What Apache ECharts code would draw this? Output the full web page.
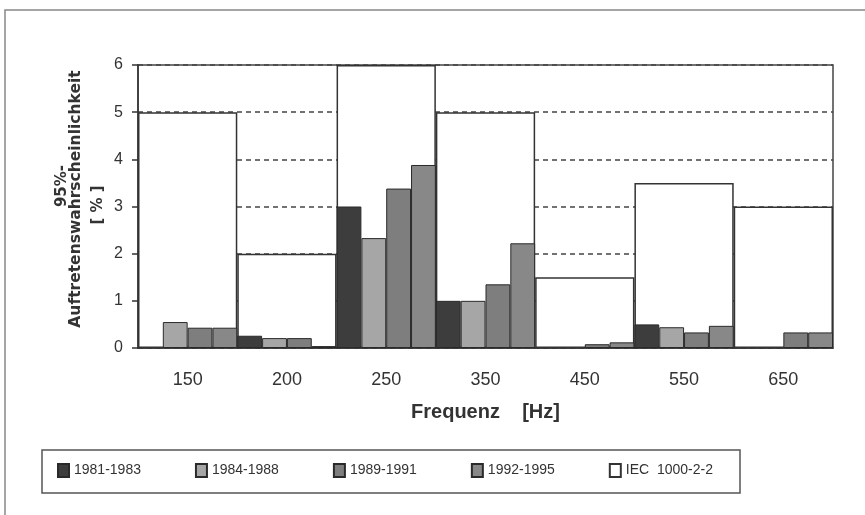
<!DOCTYPE html>
<html>
<head>
<meta charset="utf-8">
<script src="https://cdn.jsdelivr.net/npm/echarts@6/dist/echarts.min.js"></script>
<style>
html,body{margin:0;padding:0;background:#fff;}
#chart{width:865px;height:515px;}
</style>
</head>
<body>
<div id="chart"></div>
<script>
var categories = ['150', '200', '250', '350', '450', '550', '650'];
var s1981 = [null, 0.26, 3.0, 1.0, null, 0.5, null];
var s1984 = [0.55, 0.21, 2.33, 1.0, null, 0.44, null];
var s1989 = [0.43, 0.21, 3.38, 1.35, 0.08, 0.33, 0.33];
var s1992 = [0.43, 0.04, 3.88, 2.22, 0.12, 0.47, 0.33];
var iec = [5, 2, 6, 5, 1.5, 3.5, 3];
var yTicks = [0, 1, 2, 3, 4, 5, 6];
var seriesNames = ['1981-1983', '1984-1988', '1989-1991', '1992-1995', 'IEC  1000-2-2'];

var chart = echarts.init(document.getElementById('chart'), null, {renderer: 'canvas'});
var txt = '#333';
var fam = 'Liberation Sans, Arial, sans-serif';
function bar(name, data, color) {
  return {
    name: name, type: 'bar', xAxisIndex: 0, data: data,
    barGap: '0%', barCategoryGap: '0%', z: 3,
    itemStyle: {color: color, borderColor: '#2a2a2a', borderWidth: 1}
  };
}
var option = {
  animation: false,
  backgroundColor: '#fff',
  grid: {left: 138, top: 65, right: 32, bottom: 167, show: true, borderColor: '#444', borderWidth: 1.5},
  legend: {
    data: seriesNames, left: 57, top: 463, icon: 'rect', itemWidth: 11, itemHeight: 13,
    itemGap: 54, padding: 0,
    textStyle: {fontSize: 14, color: txt, fontFamily: fam}
  },
  xAxis: [{
    type: 'category', data: categories,
    axisLine: {lineStyle: {color: '#333', width: 1.5}},
    axisTick: {length: 7, lineStyle: {color: '#333', width: 1.5}},
    axisLabel: {fontSize: 18, color: txt, fontFamily: fam, margin: 23},
    name: 'Frequenz    [Hz]', nameLocation: 'middle', nameGap: 54,
    nameTextStyle: {fontSize: 20, fontWeight: 'bold', color: txt, fontFamily: fam}
  }, {
    type: 'category', data: categories, show: false
  }],
  yAxis: {
    type: 'value', min: 0, max: 6, interval: 1,
    axisLine: {show: true, lineStyle: {color: '#333', width: 1.5}},
    axisTick: {show: true, length: 6, lineStyle: {color: '#333', width: 1.5}},
    axisLabel: {fontSize: 16, color: txt, fontFamily: fam, margin: 15,
      formatter: function (v) { return yTicks.indexOf(v) >= 0 ? String(v) : ''; }},
    splitLine: {show: true, lineStyle: {color: '#444', width: 1.5, type: [5, 4]}}
  },
  graphic: [
    {type: 'rect', shape: {x: 5, y: 10, width: 900, height: 600}, style: {fill: 'none', stroke: '#888', lineWidth: 1.5}, silent: true},
    {type: 'rect', shape: {x: 42, y: 450, width: 698, height: 43}, style: {fill: 'none', stroke: '#555', lineWidth: 1.5}, silent: true},
    {type: 'text', x: 62, y: 186, rotation: Math.PI / 2,
      style: {text: '95%-', font: 'bold 15px DejaVu Sans', fill: txt, align: 'center', verticalAlign: 'middle'}},
    {type: 'text', x: 76, y: 199, rotation: Math.PI / 2,
      style: {text: 'Auftretenswahrscheinlichkeit', font: 'bold 15.5px DejaVu Sans', fill: txt, align: 'center', verticalAlign: 'middle'}},
    {type: 'text', x: 98, y: 205, rotation: Math.PI / 2,
      style: {text: '[ % ]', font: 'bold 15px DejaVu Sans', fill: txt, align: 'center', verticalAlign: 'middle'}}
  ],
  series: [
    bar(seriesNames[0], s1981, '#3d3d3d'),
    bar(seriesNames[1], s1984, '#a6a6a6'),
    bar(seriesNames[2], s1989, '#7e7e7e'),
    bar(seriesNames[3], s1992, '#888888'),
    {
      name: seriesNames[4], type: 'bar', xAxisIndex: 1, data: iec,
      barCategoryGap: '0%', z: 2,
      itemStyle: {color: '#fff', borderColor: '#333', borderWidth: 1.5}
    }
  ]
};
chart.setOption(option);
</script>
</body>
</html>
